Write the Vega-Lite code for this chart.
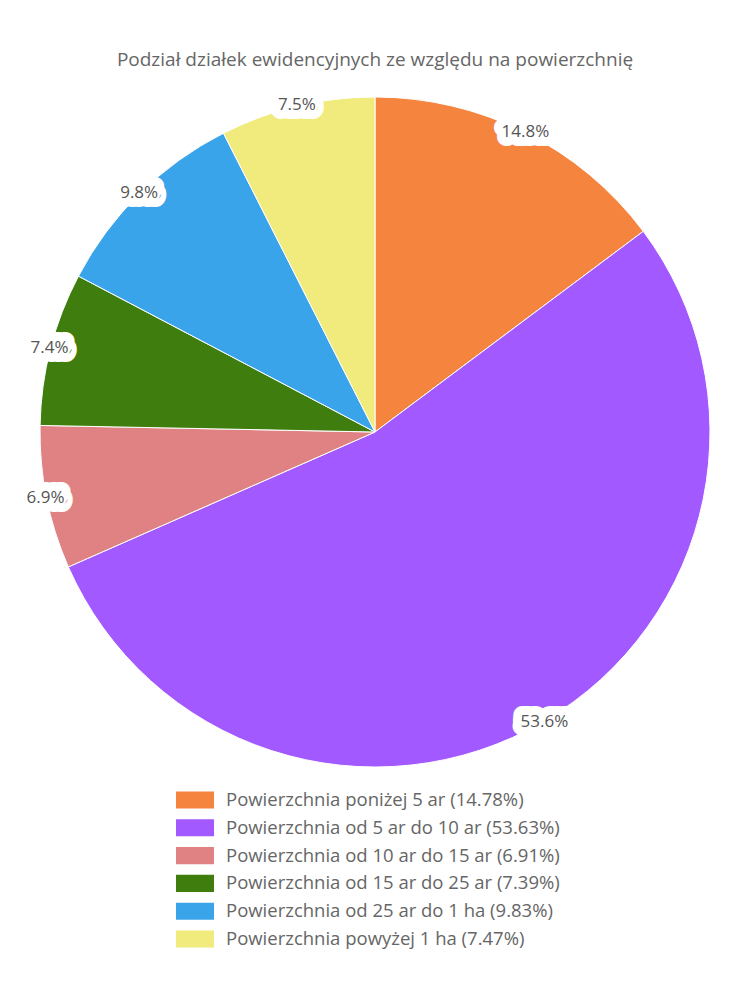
{
  "$schema": "https://vega.github.io/schema/vega-lite/v6.json",
  "width": 750,
  "height": 684,
  "padding": {"top": 90, "left": 0, "right": 0, "bottom": 226},
  "autosize": {"type": "none"},
  "background": "white",
  "title": {
    "text": "Podział działek ewidencyjnych ze względu na powierzchnię",
    "font": "Open Sans",
    "fontSize": 19,
    "fontWeight": "normal",
    "color": "#666666",
    "offset": 20,
    "anchor": "middle"
  },
  "data": {
    "values": [
      {"order": 1, "label": "Powierzchnia poniżej 5 ar (14.78%)", "value": 14.78, "pct": "14.8%"},
      {"order": 2, "label": "Powierzchnia od 5 ar do 10 ar (53.63%)", "value": 53.63, "pct": "53.6%"},
      {"order": 3, "label": "Powierzchnia od 10 ar do 15 ar (6.91%)", "value": 6.91, "pct": "6.9%"},
      {"order": 4, "label": "Powierzchnia od 15 ar do 25 ar (7.39%)", "value": 7.39, "pct": "7.4%"},
      {"order": 5, "label": "Powierzchnia od 25 ar do 1 ha (9.83%)", "value": 9.83, "pct": "9.8%"},
      {"order": 6, "label": "Powierzchnia powyżej 1 ha (7.47%)", "value": 7.47, "pct": "7.5%"}
    ]
  },
  "encoding": {
    "theta": {"field": "value", "type": "quantitative", "stack": true},
    "order": {"field": "order", "type": "quantitative"},
    "detail": {"field": "label", "type": "nominal"}
  },
  "layer": [
    {
      "mark": {"type": "arc", "outerRadius": 335, "stroke": "white", "strokeWidth": 1},
      "encoding": {
        "color": {
          "field": "label",
          "type": "nominal",
          "sort": null,
          "scale": {
            "domain": [
              "Powierzchnia poniżej 5 ar (14.78%)",
              "Powierzchnia od 5 ar do 10 ar (53.63%)",
              "Powierzchnia od 10 ar do 15 ar (6.91%)",
              "Powierzchnia od 15 ar do 25 ar (7.39%)",
              "Powierzchnia od 25 ar do 1 ha (9.83%)",
              "Powierzchnia powyżej 1 ha (7.47%)"
            ],
            "range": ["#F5843F", "#A259FF", "#E08283", "#3F7D0E", "#3AA4EA", "#F0EB7C"]
          },
          "legend": {
            "orient": "none",
            "legendX": 176,
            "legendY": 700,
            "direction": "vertical",
            "title": null,
            "symbolType": "M-1,-0.45H1V0.45H-1Z",
            "symbolSize": 1444,
            "symbolStrokeWidth": 0,
            "symbolOpacity": 1,
            "labelFont": "Open Sans",
            "labelFontSize": 18.5,
            "labelColor": "#666666",
            "labelLimit": 500,
            "clipHeight": 20,
            "rowPadding": 7.8,
            "labelOffset": 12
          }
        }
      }
    },
    {
      "mark": {"type": "text", "radius": 336, "stroke": "white", "strokeWidth": 18, "strokeJoin": "round", "fill": "white", "font": "Open Sans", "fontSize": 17},
      "encoding": {"text": {"field": "pct", "type": "nominal"}}
    },
    {
      "mark": {"type": "text", "radius": 336, "fill": "#555555", "font": "Open Sans", "fontSize": 17},
      "encoding": {"text": {"field": "pct", "type": "nominal"}}
    }
  ]
}
